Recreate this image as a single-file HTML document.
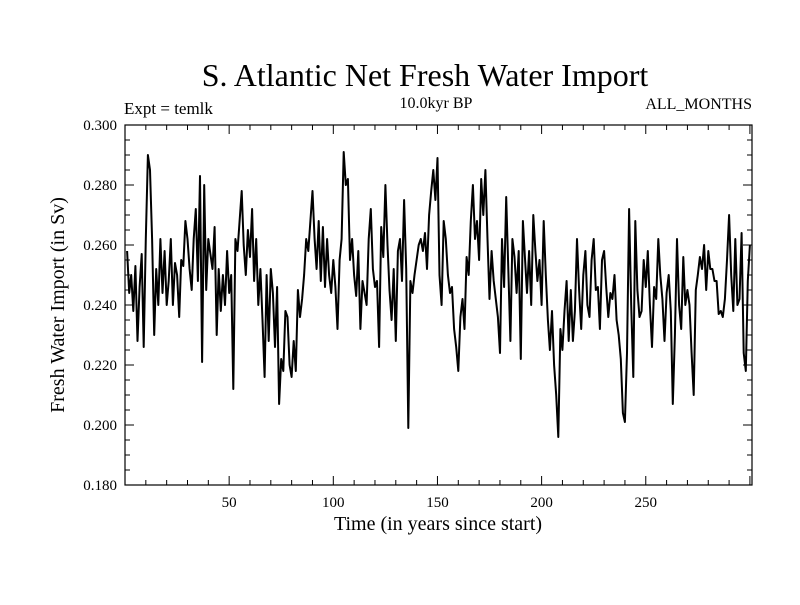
<!DOCTYPE html>
<html><head><meta charset="utf-8"><style>
body{margin:0;background:#fff}
svg text{font-family:"Liberation Serif",serif;fill:#000}
</style></head><body>
<svg id="chart" width="800" height="600" xmlns="http://www.w3.org/2000/svg">
<rect width="800" height="600" fill="#fff"/>
<text x="425" y="86" font-size="32" text-anchor="middle">S. Atlantic Net Fresh Water Import</text>
<text x="124" y="114" font-size="17">Expt = temlk</text>
<text x="436" y="108" font-size="16" text-anchor="middle">10.0kyr BP</text>
<text x="752" y="109" font-size="16" text-anchor="end">ALL_MONTHS</text>
<text x="438" y="530" font-size="20" text-anchor="middle">Time (in years since start)</text>
<text transform="translate(64,305) rotate(-90)" font-size="20" text-anchor="middle">Fresh Water Import (in Sv)</text>
<g id="axes"></g>
<path id="line" fill="none" stroke="#000" stroke-width="2" stroke-linejoin="round"/>
<rect x="125" y="125" width="627" height="360" fill="none" stroke="#000" stroke-width="1.2"/>
</svg>
<script>
const values=[.258,.244,.250,.238,.253,.228,.246,.257,.226,.262,
.290,.285,.262,.230,.252,.240,.262,.244,.258,.240,
.248,.262,.240,.254,.250,.236,.255,.253,.268,.262,
.252,.245,.262,.272,.248,.283,.221,.280,.245,.262,
.257,.252,.266,.230,.252,.238,.250,.240,.258,.244,
.250,.212,.262,.258,.268,.278,.260,.250,.265,.256,
.272,.248,.262,.240,.252,.235,.216,.250,.228,.252,
.244,.226,.246,.207,.222,.218,.238,.236,.220,.216,
.228,.218,.245,.236,.242,.250,.262,.258,.268,.278,
.262,.252,.268,.248,.266,.246,.262,.250,.244,.255,
.246,.232,.255,.262,.291,.280,.282,.255,.262,.250,
.243,.258,.232,.248,.244,.240,.262,.272,.252,.246,
.248,.226,.266,.256,.280,.260,.245,.235,.252,.228,
.258,.262,.248,.275,.252,.199,.248,.244,.250,.255,
.260,.262,.258,.264,.252,.270,.278,.285,.275,.289,
.250,.240,.268,.262,.250,.244,.246,.232,.226,.218,
.236,.242,.232,.256,.250,.268,.280,.262,.268,.255,
.282,.270,.285,.262,.242,.258,.248,.242,.236,.224,
.262,.246,.276,.252,.228,.262,.256,.244,.258,.222,
.268,.256,.244,.258,.240,.270,.258,.248,.255,.240,
.268,.250,.235,.225,.238,.220,.210,.196,.232,.225,
.238,.248,.228,.245,.228,.238,.262,.245,.232,.250,
.258,.240,.236,.255,.262,.245,.246,.232,.255,.258,
.246,.236,.244,.242,.250,.235,.230,.222,.204,.201,
.224,.272,.240,.216,.268,.245,.236,.238,.255,.246,
.258,.240,.226,.246,.242,.262,.250,.242,.228,.244,
.250,.238,.207,.230,.262,.240,.232,.256,.240,.245,
.240,.224,.210,.245,.250,.256,.252,.260,.245,.258,
.252,.252,.248,.248,.237,.238,.236,.242,.255,.270,
.250,.238,.262,.240,.242,.264,.224,.218,.248,.260];
const xTicks=[50,100,150,200,250];
const yTicks=[0.18,0.2,0.22,0.24,0.26,0.28,0.3];
const X0=125,X1=752,Y0=485,Y1=125;
const xs=t=>X0+(t-0)*(X1-X0)/301;
const ys=v=>Y0-(v-0.18)*(Y0-Y1)/0.12;
const NS="http://www.w3.org/2000/svg";
const g=document.getElementById('axes');
function ln(x1,y1,x2,y2,name){const l=document.createElementNS(NS,'line');
l.setAttribute('x1',x1);l.setAttribute('y1',y1);l.setAttribute('x2',x2);l.setAttribute('y2',y2);
l.setAttribute('stroke','#000');l.setAttribute('stroke-width','1');


g.appendChild(l);}
function tx(x,y,s,anchor,name){const t=document.createElementNS(NS,'text');
t.setAttribute('x',x);t.setAttribute('y',y);t.setAttribute('font-size','15');t.setAttribute('text-anchor',anchor);t.textContent=s;


g.appendChild(t);}
for(let v=0.18;v<=0.3001;v+=0.005){const y=ys(v);const major=Math.abs(v*50-Math.round(v*50))<1e-6;const L=major?9:5;
ln(X0,y,X0+L,y,'y-tick');ln(X1,y,X1-L,y,'y-tick');}
yTicks.forEach(v=>tx(X0-8,ys(v)+5,v.toFixed(3),'end','y-tick-label'));
for(let t=10;t<=300;t+=10){const x=xs(t);const L=t%50===0?9:5;ln(x,Y0,x,Y0-L,'x-tick');ln(x,Y1,x,Y1+L,'x-tick');}
xTicks.forEach(t=>tx(xs(t),Y0+22,String(t),'middle','x-tick-label'));
document.getElementById('line').setAttribute('d',values.map((v,i)=>(i?'L':'M')+xs(i+1).toFixed(1)+','+ys(v).toFixed(1)).join(''));
</script>
</body></html>
